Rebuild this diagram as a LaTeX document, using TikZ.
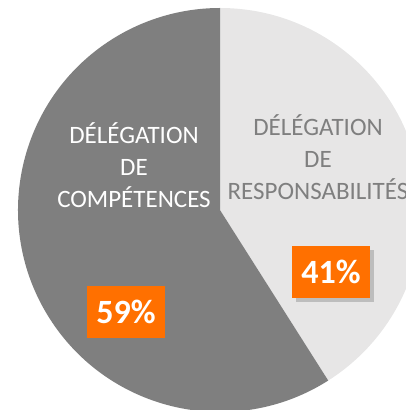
\documentclass[tikz,border=0pt]{standalone}
\usepackage{fontspec}
\setmainfont{Carlito}
\usepackage{tikz}
\usetikzlibrary{shadows}
\definecolor{darkslice}{RGB}{127,127,127}
\definecolor{lightslice}{RGB}{231,230,230}
\definecolor{myorange}{RGB}{255,112,0}
\tikzset{pct node/.style={fill=myorange,text=white,font=\fontsize{34}{40}\selectfont\bfseries,minimum width=78pt,minimum height=52pt,inner sep=0pt,drop shadow={shadow xshift=4pt,shadow yshift=-4pt,opacity=.4}},
slice label/.style={align=center,font=\fontsize{25}{32}\selectfont,inner sep=0pt,anchor=base},}

\begin{document}
\begin{tikzpicture}[x=1pt,y=1pt]
	\useasboundingbox (0,0) rectangle (406,410);
	\clip (0,0) rectangle (406,410);
	\coordinate (o) at (220,200);
	% slices
	\fill[lightslice] (o) -- ++(90:202) arc[start angle=90,end angle=-57.6,radius=202] -- cycle;
	\fill[darkslice] (o) -- ++(-57.6:202) arc[start angle=-57.6,end angle=-270,radius=202] -- cycle;
	% labels
	\node[slice label, text=white] (comp) at (134,202) {DÉLÉGATION\\DE\\COMPÉTENCES};
	\node[slice label, text=darkslice] (resp) at (318,210) {DÉLÉGATION\\DE\\RESPONSABILITÉS};
	\node[pct node] (p59) at (126,98) {59\%};
	\node[pct node] (p41) at (331,138) {41\%};
\end{tikzpicture}
\end{document}
